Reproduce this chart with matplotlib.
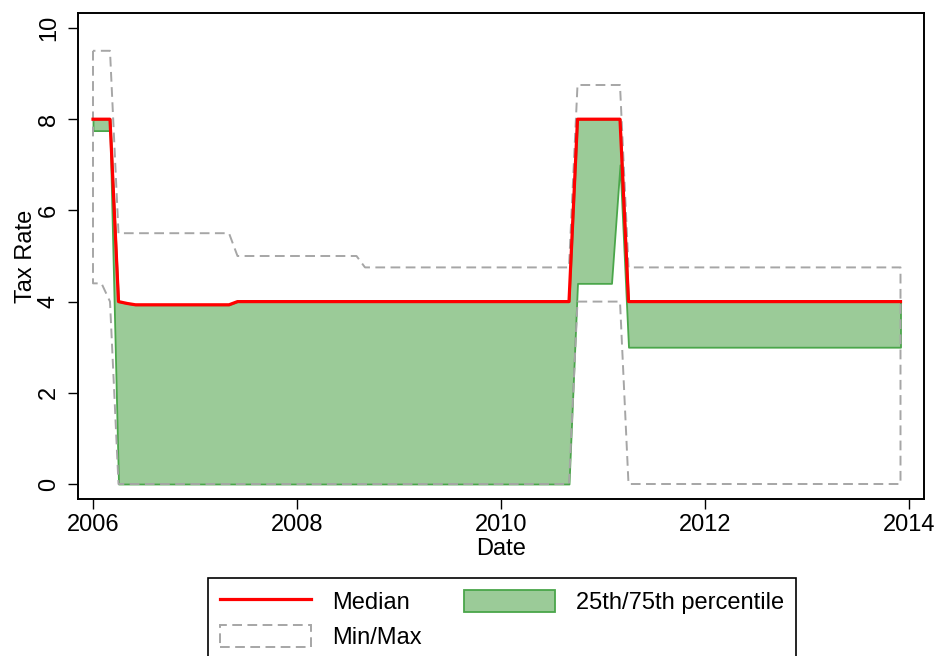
'''
tax rate distribution over time: median, 25th/75th percentile band and min/max envelope
'''

import numpy as np
import matplotlib.pyplot as plt
from matplotlib.lines import Line2D
from matplotlib.patches import Patch

plt.rcParams['font.family'] = ['Liberation Sans', 'DejaVu Sans']

start_year = 2006
n_months = 96  # 2006m1 .. 2013m12

# one row per year, Jan..Dec
median = [
    8, 8, 8, 4, 3.96, 3.93, 3.93, 3.93, 3.93, 3.93, 3.93, 3.93,
    3.93, 3.93, 3.93, 3.93, 3.93, 4, 4, 4, 4, 4, 4, 4,
    4, 4, 4, 4, 4, 4, 4, 4, 4, 4, 4, 4,
    4, 4, 4, 4, 4, 4, 4, 4, 4, 4, 4, 4,
    4, 4, 4, 4, 4, 4, 4, 4, 4, 8, 8, 8,
    8, 8, 8, 4, 4, 4, 4, 4, 4, 4, 4, 4,
    4, 4, 4, 4, 4, 4, 4, 4, 4, 4, 4, 4,
    4, 4, 4, 4, 4, 4, 4, 4, 4, 4, 4, 4,
]

p75 = [
    8, 8, 8, 4, 3.96, 3.93, 3.93, 3.93, 3.93, 3.93, 3.93, 3.93,
    3.93, 3.93, 3.93, 3.93, 3.93, 4, 4, 4, 4, 4, 4, 4,
    4, 4, 4, 4, 4, 4, 4, 4, 4, 4, 4, 4,
    4, 4, 4, 4, 4, 4, 4, 4, 4, 4, 4, 4,
    4, 4, 4, 4, 4, 4, 4, 4, 4, 8, 8, 8,
    8, 8, 8, 4, 4, 4, 4, 4, 4, 4, 4, 4,
    4, 4, 4, 4, 4, 4, 4, 4, 4, 4, 4, 4,
    4, 4, 4, 4, 4, 4, 4, 4, 4, 4, 4, 4,
]

p25 = [
    7.75, 7.75, 7.75, 0, 0, 0, 0, 0, 0, 0, 0, 0,
    0, 0, 0, 0, 0, 0, 0, 0, 0, 0, 0, 0,
    0, 0, 0, 0, 0, 0, 0, 0, 0, 0, 0, 0,
    0, 0, 0, 0, 0, 0, 0, 0, 0, 0, 0, 0,
    0, 0, 0, 0, 0, 0, 0, 0, 0, 4.4, 4.4, 4.4,
    4.4, 4.4, 7.0, 3, 3, 3, 3, 3, 3, 3, 3, 3,
    3, 3, 3, 3, 3, 3, 3, 3, 3, 3, 3, 3,
    3, 3, 3, 3, 3, 3, 3, 3, 3, 3, 3, 3,
]

max_rate = [
    9.5, 9.5, 9.5, 5.5, 5.5, 5.5, 5.5, 5.5, 5.5, 5.5, 5.5, 5.5,
    5.5, 5.5, 5.5, 5.5, 5.5, 5, 5, 5, 5, 5, 5, 5,
    5, 5, 5, 5, 5, 5, 5, 5, 4.75, 4.75, 4.75, 4.75,
    4.75, 4.75, 4.75, 4.75, 4.75, 4.75, 4.75, 4.75, 4.75, 4.75, 4.75, 4.75,
    4.75, 4.75, 4.75, 4.75, 4.75, 4.75, 4.75, 4.75, 4.75, 8.75, 8.75, 8.75,
    8.75, 8.75, 8.75, 4.75, 4.75, 4.75, 4.75, 4.75, 4.75, 4.75, 4.75, 4.75,
    4.75, 4.75, 4.75, 4.75, 4.75, 4.75, 4.75, 4.75, 4.75, 4.75, 4.75, 4.75,
    4.75, 4.75, 4.75, 4.75, 4.75, 4.75, 4.75, 4.75, 4.75, 4.75, 4.75, 4.75,
]

min_rate = [
    4.4, 4.4, 4.0, 0, 0, 0, 0, 0, 0, 0, 0, 0,
    0, 0, 0, 0, 0, 0, 0, 0, 0, 0, 0, 0,
    0, 0, 0, 0, 0, 0, 0, 0, 0, 0, 0, 0,
    0, 0, 0, 0, 0, 0, 0, 0, 0, 0, 0, 0,
    0, 0, 0, 0, 0, 0, 0, 0, 0, 4, 4, 4,
    4, 4, 4, 0, 0, 0, 0, 0, 0, 0, 0, 0,
    0, 0, 0, 0, 0, 0, 0, 0, 0, 0, 0, 0,
    0, 0, 0, 0, 0, 0, 0, 0, 0, 0, 0, 0,
]

dates = start_year + np.arange(n_months) / 12.0

GREEN_FILL = '#9bcb98'
GREEN_EDGE = '#4aa64a'
GREY = '#a6a6a6'
RED = '#ff0000'
DASH = (0, (5, 2.8))
FS = 17

fig = plt.figure(figsize=(9.41, 6.56), dpi=100)
ax = fig.add_axes([78/941, 1-499/656, (924-78)/941, (499-13)/656])

ax.fill_between(dates, p25, p75, facecolor=GREEN_FILL, edgecolor=GREEN_EDGE, linewidth=1.3, zorder=1)
ax.fill_between(dates, min_rate, max_rate, facecolor='none', edgecolor=GREY, linewidth=1.4, linestyle=DASH, zorder=2)
ax.plot(dates, median, color=RED, linewidth=2.3, zorder=3)

ax.set_xlim(2006 - 15/102, 2014 + 15/102)
ax.set_ylim(-15/45.6, 10 + 15/45.6)
ax.set_xticks([2006, 2008, 2010, 2012, 2014])
ax.set_yticks([0, 2, 4, 6, 8, 10])
ax.tick_params(axis='both', direction='out', length=7, width=1, labelsize=FS)
ax.tick_params(axis='x', pad=4)
ax.tick_params(axis='y', pad=6)
for lbl in ax.get_yticklabels():
    lbl.set_rotation(90)
    lbl.set_va('center')
for sp in ax.spines.values():
    sp.set_linewidth(1.4)

ax.set_xlabel('Date', fontsize=FS, labelpad=1)
ax.set_ylabel('Tax Rate', fontsize=FS, labelpad=1)

handles = [
    Line2D([], [], color=RED, linewidth=2.3),
    Patch(facecolor='none', edgecolor=GREY, linewidth=1.4, linestyle=DASH),
    Patch(facecolor=GREEN_FILL, edgecolor=GREEN_EDGE, linewidth=1.3),
]
labels = ['Median', 'Min/Max', '25th/75th percentile']
leg = fig.legend(handles, labels, ncol=2, loc='upper center', bbox_to_anchor=(502/941, 1-578/656),
                 fontsize=FS, frameon=True, fancybox=False, edgecolor='black', framealpha=1,
                 handlelength=3.85, handleheight=1.1, handletextpad=0.9, columnspacing=1.8,
                 labelspacing=0.45, borderpad=0.5, borderaxespad=0)
leg.get_frame().set_linewidth(1.2)

plt.savefig('out.png', dpi=100)
